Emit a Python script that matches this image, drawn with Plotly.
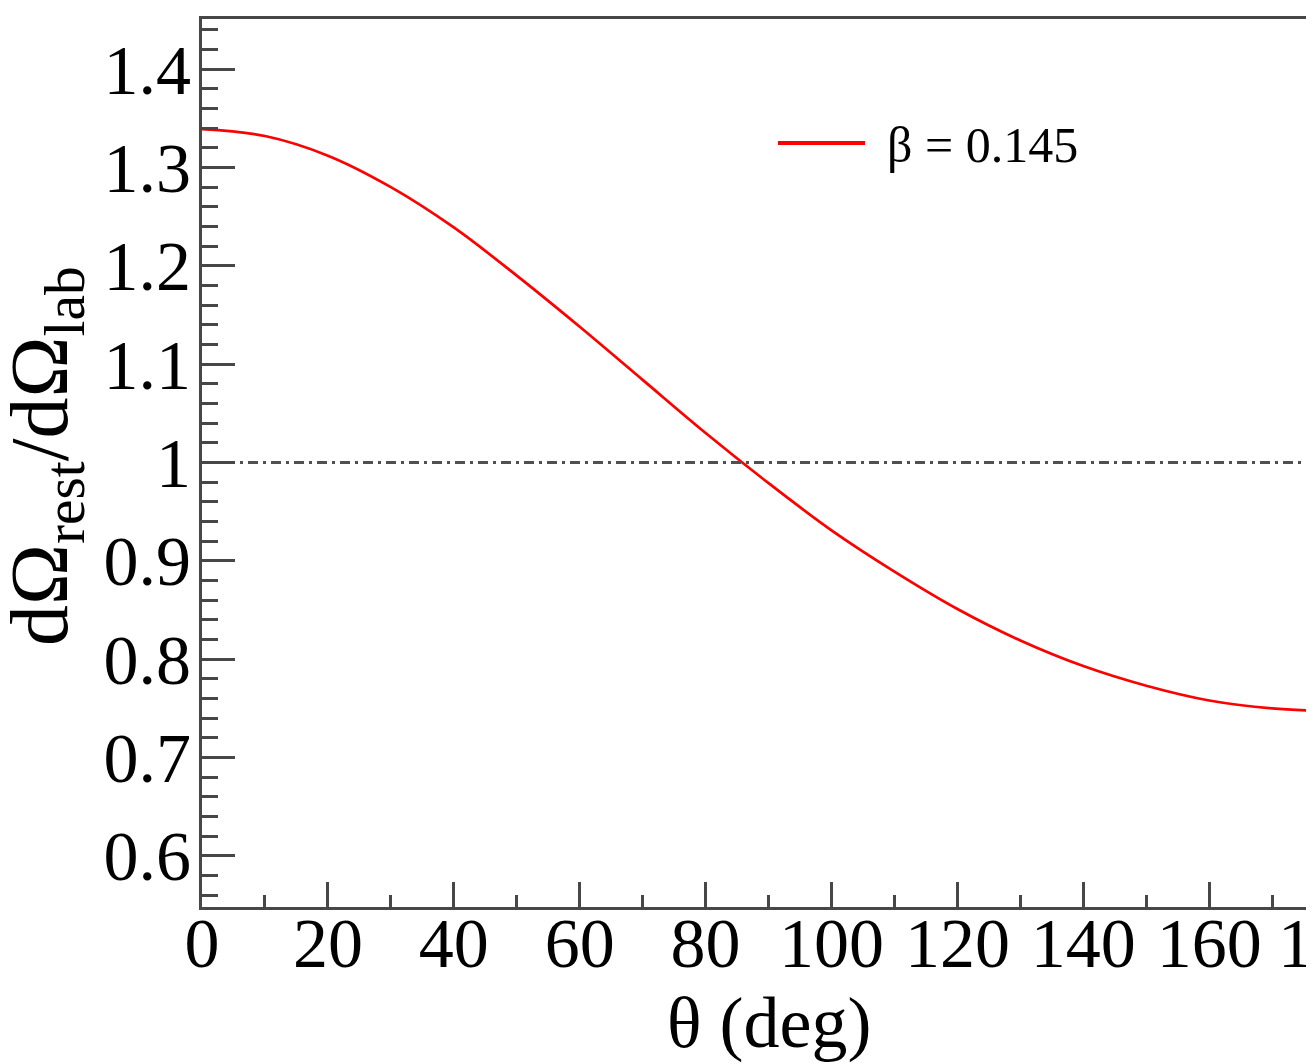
import plotly.graph_objects as go

# Data
theta_deg = [0, 10, 20, 30, 40, 50, 60, 70, 80, 90, 100, 110, 120, 130, 140, 150, 160, 170, 180]
ratio = [1.339, 1.332, 1.312, 1.280, 1.239, 1.190, 1.138, 1.084, 1.030, 0.979,
         0.931, 0.889, 0.851, 0.819, 0.793, 0.773, 0.758, 0.750, 0.747]
ref_level = 1.0
legend_label = "β = 0.145"
x_ticks = [0, 20, 40, 60, 80, 100, 120, 140, 160, 180]
y_ticks = [0.6, 0.7, 0.8, 0.9, 1.0, 1.1, 1.2, 1.3, 1.4]
y_tick_text = ["0.6", "0.7", "0.8", "0.9", "1", "1.1", "1.2", "1.3", "1.4"]

XMIN, XMAX = 0, 175.7
YMIN, YMAX = 0.548, 1.451
FONT = "Liberation Serif"
AX = "#474747"

fig = go.Figure()
fig.add_trace(go.Scatter(x=theta_deg, y=ratio, mode="lines",
                         line=dict(color="#ff0000", width=2.7, shape="spline"),
                         name=legend_label, showlegend=False))
fig.add_trace(go.Scatter(x=[XMIN, XMAX], y=[ref_level, ref_level], mode="lines",
                         line=dict(color="#505050", width=3, dash="10px,5px,3px,5px"),
                         showlegend=False, hoverinfo="skip"))

# page body adds an 8px offset; the figure is sized to fit the window
fig.update_layout(
    width=1306, height=1056,
    margin=dict(l=194, r=6, t=11, b=157, autoexpand=False),
    paper_bgcolor="white", plot_bgcolor="white",
    font=dict(family=FONT, color="black"),
    xaxis=dict(range=[XMIN, XMAX], tickvals=x_ticks, ticktext=[str(v) for v in x_ticks],
               ticks="inside", ticklen=25, tickwidth=2.5, tickcolor=AX,
               showline=True, linecolor=AX, linewidth=3, mirror=True,
               showgrid=False, zeroline=False, automargin=False, ticklabelstandoff=-27,
               tickfont=dict(family=FONT, size=70, color="black"),
               minor=dict(dtick=10, tick0=0, ticks="inside", ticklen=12, tickwidth=2.5,
                          tickcolor=AX, showgrid=False)),
    yaxis=dict(range=[YMIN, YMAX], tickvals=y_ticks, ticktext=y_tick_text,
               ticks="inside", ticklen=33, tickwidth=2.5, tickcolor=AX,
               showline=True, linecolor=AX, linewidth=3,
               showgrid=False, zeroline=False, ticklabelstandoff=-6, automargin=False,
               tickfont=dict(family=FONT, size=70, color="black"),
               minor=dict(dtick=0.02, tick0=0, ticks="inside", ticklen=16, tickwidth=2.5,
                          tickcolor=AX, showgrid=False)),
)

# Clipped tick label at 180 (the frame continues past the picture edge)
fig.add_annotation(text="180", xref="paper", yref="paper",
                   x=(180 - XMIN) / (XMAX - XMIN), y=0, yanchor="top", xanchor="center",
                   xshift=-5, yshift=4, showarrow=False,
                   font=dict(family=FONT, size=70, color="black"))

# Axis titles
fig.add_annotation(text="θ (deg)", xref="x", yref="paper", x=90, y=0,
                   xanchor="center", yanchor="top", yshift=-74, showarrow=False,
                   font=dict(family=FONT, size=72, color="black"))
fig.add_annotation(text="dΩ<sub>rest</sub>/dΩ<sub>lab</sub>",
                   xref="paper", yref="paper", x=(45 - 202) / 1106, y=(907 - 456) / 888,
                   xanchor="center", yanchor="middle", textangle=-90, showarrow=False,
                   font=dict(family=FONT, size=82, color="black"))

# Legend
fig.add_shape(type="line", xref="paper", yref="paper",
              x0=(778 - 202) / 1106, x1=(865 - 202) / 1106,
              y0=(907 - 143) / 888, y1=(907 - 143) / 888,
              line=dict(color="#ff0000", width=4))
fig.add_annotation(text=legend_label, xref="paper", yref="paper",
                   x=(885 - 202) / 1106, y=(907 - 145) / 888,
                   xanchor="left", yanchor="middle", showarrow=False,
                   font=dict(family=FONT, size=50, color="black"))

fig.write_html("out.html")
